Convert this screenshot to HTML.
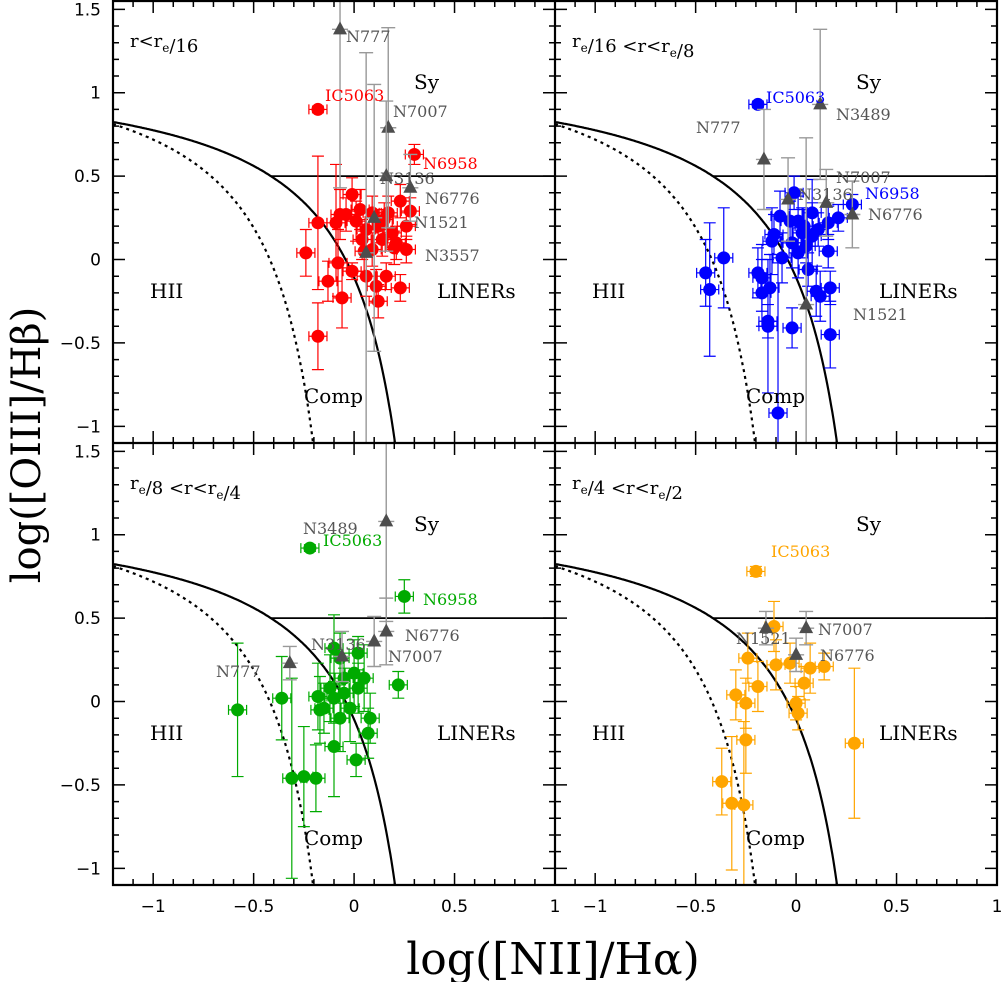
<!DOCTYPE html>
<html><head><meta charset="utf-8"><style>
html,body{margin:0;padding:0;background:#fff;}
svg{display:block;font-family:"DejaVu Serif","Liberation Serif",serif;}
.tk{font-family:"DejaVu Sans","Liberation Sans",sans-serif;font-size:17px;}
</style></head><body>
<svg id="c" width="1004" height="982" viewBox="0 0 1004 982" xmlns="http://www.w3.org/2000/svg"></svg>
<script>
// ---- data (log [NII]/Ha, log [OIII]/Hb) ----
const p1X=[-0.18,0.30,-0.01,0.23,0.28,0.03,-0.04,-0.07,-0.18,-0.09,0.01,0.09,0.17,0.26,0.12,0.19,0.04,0.14,0.09,0.20,0.26,0.05,-0.24,-0.08,-0.01,0.06,0.16,-0.13,0.11,0.23,-0.06,0.12,-0.18,0.06,0.15,0.21];
const p1Y=[0.90,0.63,0.39,0.35,0.29,0.30,0.27,0.27,0.22,0.22,0.23,0.28,0.28,0.20,0.20,0.16,0.12,0.12,0.06,0.07,0.06,0.05,0.04,-0.02,-0.07,-0.10,-0.10,-0.13,-0.16,-0.17,-0.23,-0.25,-0.46,0.18,0.24,0.10];
const p1EY=[0.02,0.06,0.10,0.10,0.08,0.12,0.10,0.15,0.40,0.35,0.12,0.10,0.10,0.08,0.10,0.10,0.12,0.10,0.10,0.10,0.08,0.12,0.14,0.20,0.05,0.12,0.08,0.12,0.10,0.08,0.18,0.10,0.2,0.1,0.1,0.1];
const p1GX=[-0.07,0.17,0.16,0.28,0.10,0.06];
const p1GY=[1.38,0.79,0.50,0.43,0.25,0.04];
const p1GEY=[0.95,0.6,0.45,0.2,0.8,1.2];

const p2X=[-0.19,-0.08,-0.03,0.01,0.08,-0.01,0.21,0.28,0.16,-0.11,-0.12,0.03,0.08,-0.02,0.05,0.01,0.16,-0.07,0.06,-0.36,-0.45,-0.43,-0.19,-0.17,-0.13,-0.17,0.10,0.12,0.17,-0.14,-0.14,-0.02,0.17,-0.09,0.04,0.11];
const p2Y=[0.93,0.26,0.23,0.23,0.28,0.40,0.25,0.33,0.22,0.15,0.11,0.16,0.14,0.10,0.08,0.04,0.05,0.01,-0.06,0.01,-0.08,-0.18,-0.08,-0.11,-0.17,-0.20,-0.19,-0.22,-0.17,-0.37,-0.40,-0.41,-0.45,-0.92,0.20,0.18];
const p2EY=[0.02,0.15,0.12,0.15,0.2,0.1,0.08,0.06,0.1,0.12,0.2,0.15,0.2,0.15,0.1,0.15,0.1,0.15,0.1,0.3,0.2,0.4,0.15,0.2,0.2,0.2,0.15,0.15,0.1,0.1,0.4,0.12,0.2,0.9,0.1,0.1];
const p2GX=[0.12,-0.16,0.15,-0.04,0.28,0.05];
const p2GY=[0.93,0.60,0.34,0.36,0.27,-0.27];
const p2GEY=[0.45,0.3,0.2,0.25,0.2,1.0];

const p3X=[-0.22,0.25,0.22,-0.58,-0.36,-0.10,-0.07,-0.31,-0.25,-0.19,0.01,-0.10,0.08,0.07,-0.18,-0.15,-0.12,-0.05,-0.02,0.02,0.05,0.00,-0.05,-0.10,-0.07,-0.17,0.02];
const p3Y=[0.92,0.63,0.10,-0.05,0.02,0.32,0.26,-0.46,-0.45,-0.46,-0.35,-0.27,-0.10,-0.19,0.03,-0.04,0.08,0.05,-0.04,0.08,0.14,0.17,0.14,0.02,-0.10,-0.05,0.29];
const p3EY=[0.02,0.1,0.08,0.4,0.25,0.2,0.15,0.6,0.3,0.2,0.1,0.3,0.15,0.15,0.2,0.15,0.2,0.15,0.2,0.15,0.2,0.2,0.15,0.15,0.2,0.2,0.1];
const p3GX=[0.16,0.16,0.10,-0.06,-0.32];
const p3GY=[1.08,0.42,0.36,0.27,0.23];
const p3GEY=[0.6,0.2,0.15,0.15,0.1];

const p4X=[-0.20,-0.11,-0.24,-0.10,-0.03,-0.19,0.04,0.07,0.14,0.00,0.01,-0.30,-0.25,-0.25,-0.37,-0.32,-0.26,0.29];
const p4Y=[0.78,0.45,0.26,0.22,0.23,0.09,0.11,0.20,0.21,-0.01,-0.07,0.04,-0.01,-0.23,-0.48,-0.61,-0.62,-0.25];
const p4EY=[0.03,0.15,0.15,0.15,0.12,0.15,0.1,0.15,0.08,0.1,0.1,0.15,0.15,0.2,0.2,0.4,0.5,0.45];
const p4GX=[-0.15,0.05,0.00];
const p4GY=[0.44,0.44,0.28];
const p4GEY=[0.1,0.1,0.1];

const xTicks=[-1,-0.5,0,0.5,1];
const xTickLabels=["\u22121","\u22120.5","0","0.5","1"];
const yTicks=[1.5,1,0.5,0,-0.5,-1];
const yTickLabels=["1.5","1","0.5","0","\u22120.5","\u22121"];

const NS="http://www.w3.org/2000/svg";
const svg=document.getElementById('c');
function mk(tag,attrs,parent){const e=document.createElementNS(NS,tag);for(const k in attrs)e.setAttribute(k,attrs[k]);(parent||svg).appendChild(e);return e;}

const X0=[113,555], Y0=[1,443], PW=442, PH=442;
const XMIN=-1.2, XMAX=1.0, YMIN=-1.1, YMAX=1.55;
function sx(col,v){return X0[col]+(v-XMIN)/(XMAX-XMIN)*PW;}
function sy(row,v){return Y0[row]+(YMAX-v)/(YMAX-YMIN)*PH;}

const panels=[
 {row:0,col:0,color:'#ff0000',X:p1X,Y:p1Y,EY:p1EY,GX:p1GX,GY:p1GY,GEY:p1GEY,
  labels:[['IC5063',325,101,1],['N777',346,42,0],['N7007',393,117,0],['N6958',423,169,1],['N3136',380,184,0],['N6776',425,204,0],['N1521',414,228,0],['N3557',425,261,0]]},
 {row:0,col:1,color:'#0000ff',X:p2X,Y:p2Y,EY:p2EY,GX:p2GX,GY:p2GY,GEY:p2GEY,
  labels:[['IC5063',766,103,1],['N3489',836,120,0],['N777',696,133,0],['N7007',836,183,0],['N3136',798,200,0],['N6958',865,199,1],['N6776',868,220,0],['N1521',853,320,0]]},
 {row:1,col:0,color:'#00aa00',X:p3X,Y:p3Y,EY:p3EY,GX:p3GX,GY:p3GY,GEY:p3GEY,
  labels:[['N3489',303,534,0],['IC5063',323,546,1],['N6958',423,605,1],['N6776',405,641,0],['N3136',311,650,0],['N7007',388,662,0],['N777',216,677,0]]},
 {row:1,col:1,color:'#ffa500',X:p4X,Y:p4Y,EY:p4EY,GX:p4GX,GY:p4GY,GEY:p4GEY,
  labels:[['IC5063',771,557,1],['N1521',736,644,0],['N7007',818,635,0],['N6776',820,661,0]]}
];
const titles=[['r<r','/16'],['r','/16 <r<r','/8'],['r','/8 <r<r','/4'],['r','/4 <r<r','/2']];

const defs=mk('defs',{});
panels.forEach((p,i)=>{const cp=mk('clipPath',{id:'cp'+i},defs);mk('rect',{x:X0[p.col],y:Y0[p.row],width:PW,height:PH},cp);});

panels.forEach((p,i)=>{
 const g=mk('g',{'clip-path':'url(#cp'+i+')'});
 
 
 const r=p.row,c=p.col;
 let d='';for(let x=XMIN;x<0.46;x+=0.005){const y=0.61/(x-0.47)+1.19;if(y<YMIN-0.2)break;d+=(d?'L':'M')+sx(c,x).toFixed(1)+','+sy(r,y).toFixed(1);}
 const k=mk('path',{d:d,fill:'none',stroke:'#000','stroke-width':2.2},g);
 
 d='';for(let x=XMIN;x<0.04;x+=0.005){const y=0.61/(x-0.05)+1.3;if(y<YMIN-0.2)break;d+=(d?'L':'M')+sx(c,x).toFixed(1)+','+sy(r,y).toFixed(1);}
 const kf=mk('path',{d:d,fill:'none',stroke:'#000','stroke-width':2.2,'stroke-dasharray':'3,4'},g);
 
 const xs=0.47+0.61/(0.5-1.19);
 const hl=mk('line',{x1:sx(c,xs),y1:sy(r,0.5),x2:sx(c,XMAX),y2:sy(r,0.5),stroke:'#000','stroke-width':1.8},g);
 
 p.X.forEach((xv,j)=>{
  const cx=sx(c,xv),cy=sy(r,p.Y[j]),ex=0.045*PW/2.2,ey=p.EY[j]*PH/2.65;
  const eb=mk('path',{d:`M${cx-ex},${cy}H${cx+ex}M${cx-ex},${cy-5}V${cy+5}M${cx+ex},${cy-5}V${cy+5}M${cx},${cy-ey}V${cy+ey}M${cx-6},${cy-ey}H${cx+6}M${cx-6},${cy+ey}H${cx+6}`,stroke:p.color,'stroke-width':1.2,fill:'none'},g);
  
  const pt=mk('circle',{cx:cx,cy:cy,r:6.5,fill:p.color},g);
  
 });
 p.GX.forEach((xv,j)=>{
  const cx=sx(c,xv),cy=sy(r,p.GY[j]),ey=p.GEY[j]*PH/2.65,ex=0.04*PW/2.2;
  const eb=mk('path',{d:`M${cx-ex},${cy}H${cx+ex}M${cx},${cy-ey}V${cy+ey}M${cx-7},${cy-ey}H${cx+7}M${cx-7},${cy+ey}H${cx+7}`,stroke:'#999','stroke-width':1.4,fill:'none'},g);
  
  const tr=mk('path',{d:`M${cx},${cy-8}L${cx+7},${cy+5}L${cx-7},${cy+5}Z`,fill:'#4d4d4d'},g);
  
 });
 p.labels.forEach(l=>{
  const t=mk('text',{x:l[1],y:l[2],'font-size':16,fill:l[3]?p.color:'#555'},g);t.textContent=l[0];
  
 });
 const ox=X0[c]-113, oy=Y0[r]-1;
 [['Sy',414,89],['HII',150,298],['LINERs',437,298],['Comp',304,403]].forEach(l=>{
  const t=mk('text',{x:l[1]+ox,y:l[2]+oy,'font-size':20,fill:'#000'});t.textContent=l[0];
  
 });
 const tt=titles[i];
 const t=mk('text',{x:130+ox,y:47+oy,'font-size':18,fill:'#000'});
 
 tt.forEach((s,k)=>{
  const ts=mk('tspan',{},t);ts.textContent=s;
  if(k<tt.length-1){const sb=mk('tspan',{'font-size':12,dy:5},t);sb.textContent='e';const bk=mk('tspan',{dy:-5},t);bk.textContent='';}
 });
 let td='';
 for(let v=-12;v<=10;v++){const x=sx(c,v/10),L=(v%5===0)?12:6;td+=`M${x},${Y0[r]+PH}v${-L}M${x},${Y0[r]}v${L}`;}
 for(let v=-11;v<=15;v++){const y=sy(r,v/10),L=(v%5===0)?12:6;td+=`M${X0[c]},${y}h${L}M${X0[c]+PW},${y}h${-L}`;}
 const tk=mk('path',{d:td,stroke:'#000','stroke-width':1.5});
 
});
const fr=mk('path',{d:'M113,1H997V885H113ZM555,1V885M113,443H997',fill:'none',stroke:'#000','stroke-width':2.2});

[0,1].forEach(c=>xTicks.forEach((v,k)=>{
 const t=mk('text',{x:sx(c,v),y:912,'text-anchor':'middle',class:'tk'});t.textContent=xTickLabels[k];
 
}));
[0,1].forEach(r=>yTicks.forEach((v,k)=>{
 const t=mk('text',{x:101,y:sy(r,v)+6,'text-anchor':'end',class:'tk'});t.textContent=yTickLabels[k];
 
}));
const xl=mk('text',{x:553,y:974,'text-anchor':'middle','font-size':44});xl.textContent='log([NII]/H\u03b1)';

const yl=mk('text',{x:0,y:0,'text-anchor':'middle','font-size':40,transform:'translate(40,445) rotate(-90)'});yl.textContent='log([OIII]/H\u03b2)';

</script>
</body></html>
